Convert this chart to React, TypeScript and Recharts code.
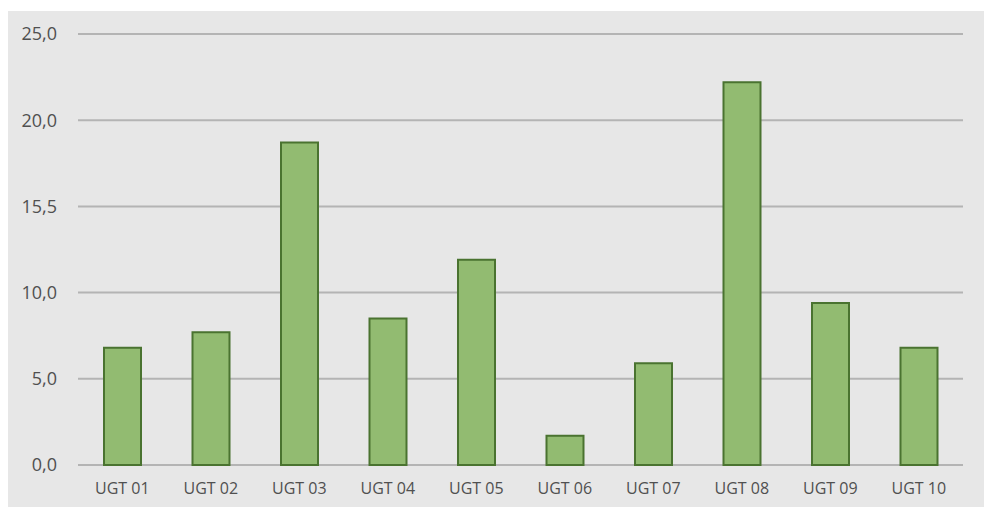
import { BarChart, Bar, XAxis, YAxis, CartesianGrid } from "recharts";

const categories = [
  "UGT 01",
  "UGT 02",
  "UGT 03",
  "UGT 04",
  "UGT 05",
  "UGT 06",
  "UGT 07",
  "UGT 08",
  "UGT 09",
  "UGT 10",
];
const values = [6.8, 7.7, 18.7, 8.5, 11.9, 1.7, 5.9, 22.2, 9.4, 6.8];
const yTicks = [0, 5, 10, 15, 20, 25];
const yTickLabels = ["0,0", "5,0", "10,0", "15,5", "20,0", "25,0"];

const data = categories.map((name, i) => ({ name, value: values[i] }));

const font = "'Open Sans', 'Noto Sans', sans-serif";

const App = () => {
  return (
    <div
      style={{
        position: "fixed",
        left: 8,
        top: 11,
        width: 976,
        height: 496,
        background: "#e7e7e7",
      }}
    >
      <BarChart
        width={976}
        height={496}
        data={data}
        margin={{ top: 23, right: 21, left: 0, bottom: 0 }}
      >
        <CartesianGrid
          vertical={false}
          stroke="#b4b4b4"
          strokeWidth={2}
        />
        <XAxis
          dataKey="name"
          height={42}
          axisLine={false}
          tickLine={false}
          tickSize={0}
          tickMargin={18}
          tick={{ fontSize: 16, fontFamily: font, fill: "#505050", fontWeight: 500 }}
        />
        <YAxis
          width={70}
          domain={[0, 25]}
          ticks={yTicks}
          axisLine={false}
          tickLine={false}
          tickSize={0}
          tickMargin={21}
          tickFormatter={(v: number) => yTickLabels[yTicks.indexOf(v)]}
          tick={{ fontSize: 18, fontFamily: font, fill: "#505050", fontWeight: 500 }}
        />
        <Bar
          dataKey="value"
          barSize={37}
          fill="#92bb71"
          stroke="#4a7330"
          strokeWidth={2}
          isAnimationActive={false}
        />
      </BarChart>
    </div>
  );
};

export default App;
